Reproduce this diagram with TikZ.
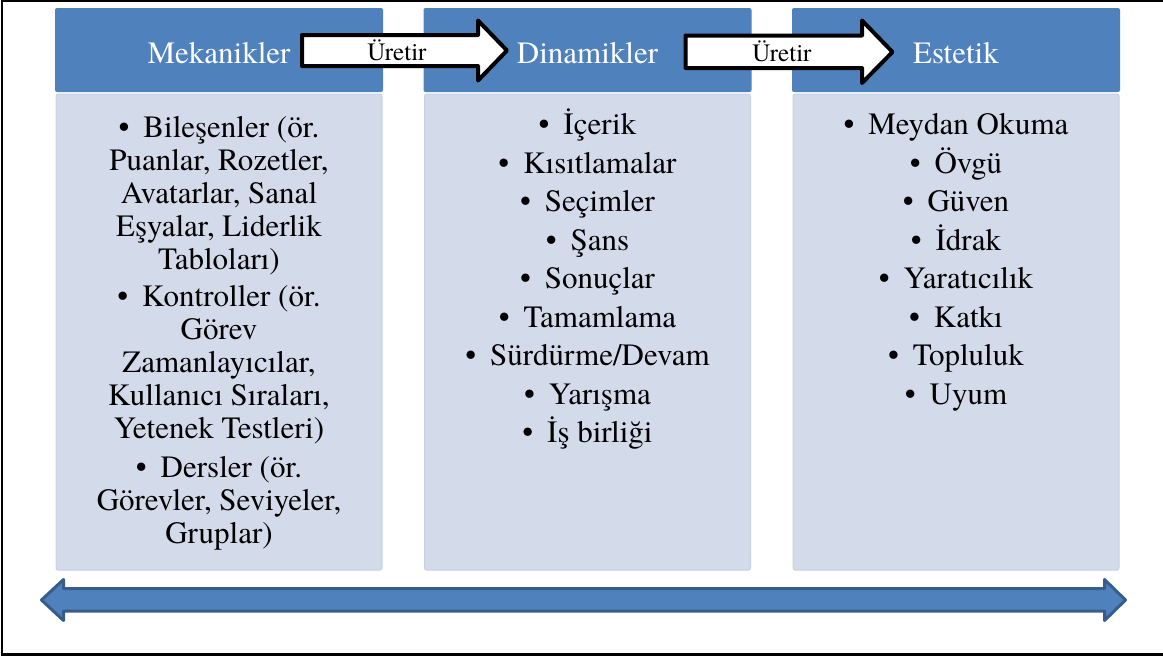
\documentclass[tikz,border=0pt]{standalone}
\usepackage{fontspec}
\setmainfont{TeX Gyre Termes}
\usetikzlibrary{positioning}
\definecolor{baslikmavi}{HTML}{4F81BD}
\definecolor{kutumavi}{HTML}{D3DAEA}
\definecolor{kutukenar}{HTML}{C8D1E4}
\definecolor{okkenar}{HTML}{385D8A}
\newcommand{\madde}{•\hspace{0.45em}}
\tikzset{
  baslik/.style={fill=baslikmavi, text=white, minimum width=164pt, minimum height=42pt,
    inner sep=0pt, rounded corners=1pt, font=\fontsize{15.5}{18}\selectfont,
    text height=13pt, text depth=0pt},
  kutu/.style={fill=kutumavi, draw=kutukenar, line width=0.5pt, minimum width=163pt,
    minimum height=238pt, inner sep=0pt, rounded corners=1pt},
  liste/.style={align=center, inner sep=0pt, font=\fontsize{15.5}{19.25}\selectfont},
  sikliste/.style={liste, font=\fontsize{15.5}{16.5}\selectfont},
  blokok/.style={draw=black, fill=white, line width=2pt, line join=round},
  etiket/.style={inner sep=0pt, font=\fontsize{12.5}{14}\selectfont, text height=10pt, text depth=0pt},
  ciftok/.style={fill=baslikmavi, draw=okkenar, line width=1.5pt, line join=round}
}
\begin{document}
\begin{tikzpicture}[x=0.5pt,y=-0.5pt,node distance=184.25pt,on grid]
\useasboundingbox (0,0) rectangle (1163,659);
\draw[line width=1.2pt] (1166,1) -- (2,1) -- (2,654.5) -- (1166,654.5);

% basliklar
\node[baslik] (mekanik) at (219,50) {Mekanikler};
\node[baslik, right=of mekanik] (dinamik) {Dinamikler};
\node[baslik, right=of dinamik] (estetik) {Estetik};

% kutular
\node[kutu, below=141pt of mekanik] (mekKutu) {};
\node[kutu, below=141pt of dinamik] (dinKutu) {};
\node[kutu, below=141pt of estetik] (estKutu) {};

\node[sikliste, below=10pt of mekKutu.north, anchor=north] (mekListe)
  {\strut\madde Bileşenler (ör.\\ Puanlar, Rozetler,\\ Avatarlar, Sanal\\
   Eşyalar, Liderlik\\ Tabloları)\\[2pt]
   \madde Kontroller (ör.\\ Görev\\ Zamanlayıcılar,\\ Kullanıcı Sıraları,\\
   Yetenek Testleri)\\[3pt]
   \madde Dersler (ör.\\ Görevler, Seviyeler,\\ Gruplar)};
\node[liste, below=7pt of dinKutu.north, anchor=north] (dinListe)
  {\strut\madde İçerik\\ \madde Kısıtlamalar\\ \madde Seçimler\\ \madde Şans\\
   \madde Sonuçlar\\ \madde Tamamlama\\ \madde Sürdürme/Devam\\ \madde Yarışma\\
   \madde İş birliği};
\node[liste, below=7pt of estKutu.north, anchor=north] (estListe)
  {\strut\madde Meydan Okuma\\ \madde Övgü\\ \madde Güven\\ \madde İdrak\\
   \madde Yaratıcılık\\ \madde Katkı\\ \madde Topluluk\\ \madde Uyum};

% uretir oklari
\draw[blokok] (302,35) -- (478,35) -- (478,20.5) -- (507,50.5) -- (478,80.5)
  -- (478,66) -- (302,66) -- cycle;
\node[etiket] (uretirA) at (397,50) {Üretir};
\draw[blokok] (685.5,35.5) -- (862,35.5) -- (862,20.5) -- (892.5,52) -- (862,83)
  -- (862,68) -- (685.5,68) -- cycle;
\node[etiket] (uretirB) at (782,51) {Üretir};

% alt cift ok
\draw[ciftok] (41.5,600) -- (63.5,579.5) -- (63.5,588.5) -- (1104.5,588.5)
  -- (1104.5,579.5) -- (1125.5,600) -- (1104.5,620.5) -- (1104.5,611)
  -- (63.5,611) -- (63.5,620.5) -- cycle;
\end{tikzpicture}
\end{document}
